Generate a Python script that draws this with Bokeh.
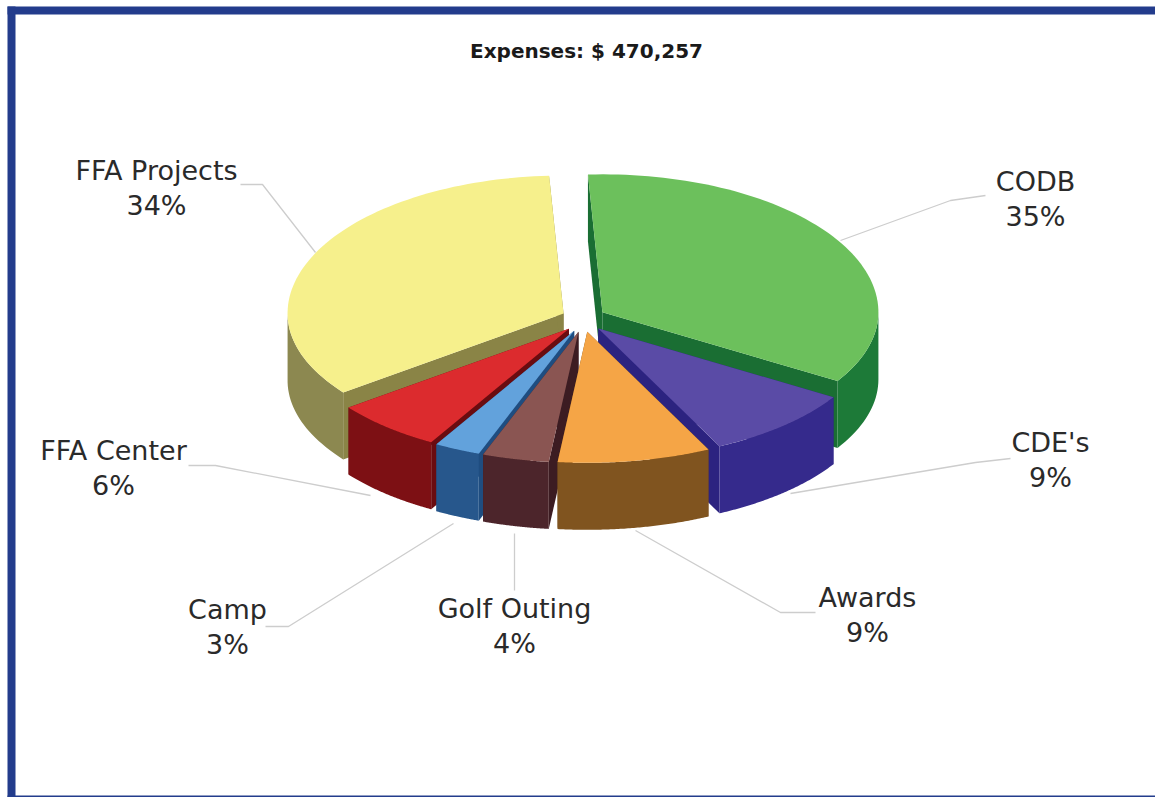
import numpy as np
from bokeh.plotting import figure
from bokeh.embed import file_html
from bokeh.resources import INLINE
from bokeh.core.properties import value

title = "Expenses: $ 470,257"
categories = ["CODB", "CDE's", "Awards", "Golf Outing", "Camp", "FFA Center", "FFA Projects"]
percents = [34.6, 9.0, 8.95, 3.9, 2.7, 6.4, 34.45]
top_colors = ["#6cc05c", "#5a4ba6", "#f5a546", "#8a5552", "#62a2dc", "#dc2b2e", "#f6f08c"]
wall_colors = ["#1d7a38", "#352a8c", "#80541f", "#4c252b", "#27578c", "#7d1014", "#8c8850"]
face_colors = ["#1a6e33", "#2c2380", "#6e4618", "#3c1c22", "#1f4d80", "#6a0c10", "#8a8446"]
label_pos = [(1035, 181), (1050, 442), (867, 597), (514, 608), (227, 609), (113, 450), (156, 170)]
leaders = [
    [(985, 195), (950, 200), (840, 240)],
    [(1010, 458), (975, 462), (790, 493)],
    [(815, 612), (780, 612), (635, 530)],
    [(514, 590), (514, 533)],
    [(265, 626), (288, 626), (453, 523)],
    [(188, 465), (215, 465), (370, 495)],
    [(240, 184), (262, 184), (315, 252)],
]

W, H = 1155, 797
CX, CY, RX, RY_BACK, RY_FRONT, DEPTH = 583.0, 318.5, 276.0, 138.0, 131.0, 67.0
EXPLODE, EXPLODE_Y, START = 22.0, 13.0, -3.0

p = figure(width=W, height=H, x_range=(0, W), y_range=(H, 0),
           output_backend="svg", toolbar_location=None, min_border=0,
           outline_line_color=None, background_fill_color="white", border_fill_color="white")
p.axis.visible = False
p.grid.visible = False


def project(ax, ay, ang):
    c = np.cos(ang)
    return ax + RX * np.sin(ang), ay - np.where(c > 0, RY_BACK, RY_FRONT) * c


fracs = np.array(percents, dtype=float) / sum(percents) * 2 * np.pi
ends = np.radians(START) + np.cumsum(fracs)
starts = ends - fracs
mids = (starts + ends) / 2
order = np.argsort(-np.abs(((mids - np.pi + np.pi) % (2 * np.pi)) - np.pi))

for i in order:
    a0, a1, m = starts[i], ends[i], mids[i]
    ax = CX + EXPLODE * np.sin(m)
    ay = CY - EXPLODE_Y * np.cos(m)
    t = np.linspace(a0, a1, 80)
    rx_, ry_ = project(ax, ay, t)
    # cut faces
    for ang in (a0, a1):
        ex, ey = project(ax, ay, ang)
        p.patch([ax, ex, ex, ax], [ay, ey, ey + DEPTH, ay + DEPTH], fill_color=face_colors[i], line_color=None)
    # outer wall: only the part that faces the viewer
    front = np.cos(t) <= 0.02
    if front.any():
        wx, wy = rx_[front], ry_[front]
        p.patch(np.r_[wx, wx[::-1]], np.r_[wy, wy[::-1] + DEPTH], fill_color=wall_colors[i], line_color=None)
    # top
    p.patch(np.r_[ax, rx_], np.r_[ay, ry_], fill_color=top_colors[i], line_color=None)

# leader lines
for pts in leaders:
    p.line([q[0] for q in pts], [q[1] for q in pts], line_color="#cdcdcd", line_width=1.3)

# labels
for name, pct, (lx, ly) in zip(categories, percents, label_pos):
    p.text([lx], [ly], text=[name], text_align="center", text_baseline="middle",
           text_font=value("DejaVu Sans"), text_font_size="27px", text_color="#2a2a2a")
    p.text([lx], [ly + 35], text=[f"{round(pct)}%"], text_align="center", text_baseline="middle",
           text_font=value("DejaVu Sans"), text_font_size="27px", text_color="#2a2a2a")

p.text([586], [50], text=[title], text_align="center", text_baseline="middle",
       text_font=value("DejaVu Sans"), text_font_style="bold", text_font_size="20px", text_color="#1a1a1a")

# page frame
BLUE = "#233c8c"
p.quad(left=[7], right=[15], top=[6], bottom=[H], fill_color=BLUE, line_color=None)
p.quad(left=[7], right=[W], top=[6], bottom=[14], fill_color=BLUE, line_color=None)
p.quad(left=[7], right=[W], top=[795], bottom=[H], fill_color=BLUE, line_color=None)

open("out.html", "w").write(file_html(p, INLINE))
